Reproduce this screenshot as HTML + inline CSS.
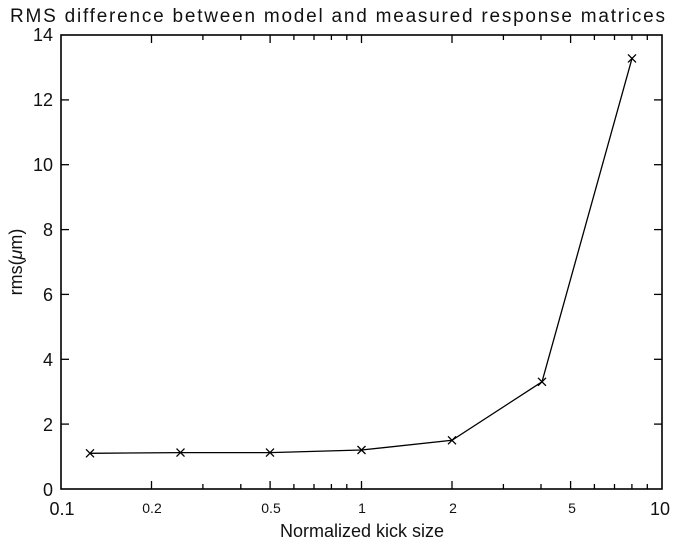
<!DOCTYPE html>
<html><head><style>body{margin:0;background:#fff}svg{display:block}text{font-family:"Liberation Sans",sans-serif;fill:#111}</style></head>
<body>
<svg width="677" height="544" viewBox="0 0 677 544">
<text x="10" y="22" font-size="19" textLength="655" lengthAdjust="spacing">RMS difference between model and measured response matrices</text>
<rect x="61" y="35" width="601" height="454" fill="none" stroke="#000" stroke-width="1.6"/>
<g stroke="#000" stroke-width="1.3">
<line x1="61" y1="424.1" x2="69" y2="424.1"/><line x1="61" y1="359.3" x2="69" y2="359.3"/><line x1="61" y1="294.4" x2="69" y2="294.4"/><line x1="61" y1="229.6" x2="69" y2="229.6"/><line x1="61" y1="164.7" x2="69" y2="164.7"/><line x1="61" y1="99.9" x2="69" y2="99.9"/>
<line x1="662" y1="424.1" x2="654" y2="424.1"/><line x1="662" y1="359.3" x2="654" y2="359.3"/><line x1="662" y1="294.4" x2="654" y2="294.4"/><line x1="662" y1="229.6" x2="654" y2="229.6"/><line x1="662" y1="164.7" x2="654" y2="164.7"/><line x1="662" y1="99.9" x2="654" y2="99.9"/>
</g>
<g stroke="#000" stroke-width="1.3">
<path d="M151.5 489v-8M202.9 489v-5M240.8 489v-5M270.1 489v-8M293.9 489v-5M314 489v-5M331.4 489v-5M346.8 489v-5M361.5 489v-8M452 489v-8M503.4 489v-5M541 489v-5M570.6 489v-8M594.4 489v-5M614.5 489v-5M631.9 489v-5M647.3 489v-5"/>
<path d="M151.5 35v8M202.9 35v5M240.8 35v5M270.1 35v8M293.9 35v5M314 35v5M331.4 35v5M346.8 35v5M361.5 35v8M452 35v8M503.4 35v5M541 35v5M570.6 35v8M594.4 35v5M614.5 35v5M631.9 35v5M647.3 35v5"/>
</g>
<g font-size="18" text-anchor="end">
<text x="53" y="496">0</text><text x="53" y="431">2</text><text x="53" y="366">4</text><text x="53" y="301">6</text><text x="53" y="236">8</text><text x="53" y="171">10</text><text x="53" y="106">12</text><text x="53" y="41">14</text>
</g>
<g font-size="14" text-anchor="middle">
<text x="62" y="515" font-size="18">0.1</text><text x="152" y="513">0.2</text><text x="271" y="513">0.5</text><text x="362" y="513">1</text><text x="453" y="513">2</text><text x="572" y="513">5</text><text x="660" y="515" font-size="18">10</text>
</g>
<text x="362" y="537" font-size="18" text-anchor="middle">Normalized kick size</text>
<text transform="translate(22,262) rotate(-90)" font-size="18" text-anchor="middle">rms(<tspan font-style="italic">μ</tspan>m)</text>
<polyline fill="none" stroke="#000" stroke-width="1.3" points="90,453.3 180.5,452.6 270,452.6 361.5,450 452,440.3 542,381.8 632,58.4"/>
<g stroke="#000" stroke-width="1.3">
<path d="M86,449.3l8,8M86,457.3l8,-8M176.5,448.6l8,8M176.5,456.6l8,-8M266,448.6l8,8M266,456.6l8,-8M357.5,446l8,8M357.5,454l8,-8M448,436.3l8,8M448,444.3l8,-8M538,377.8l8,8M538,385.8l8,-8M628,54.4l8,8M628,62.4l8,-8"/>
</g>
</svg>
</body></html>
